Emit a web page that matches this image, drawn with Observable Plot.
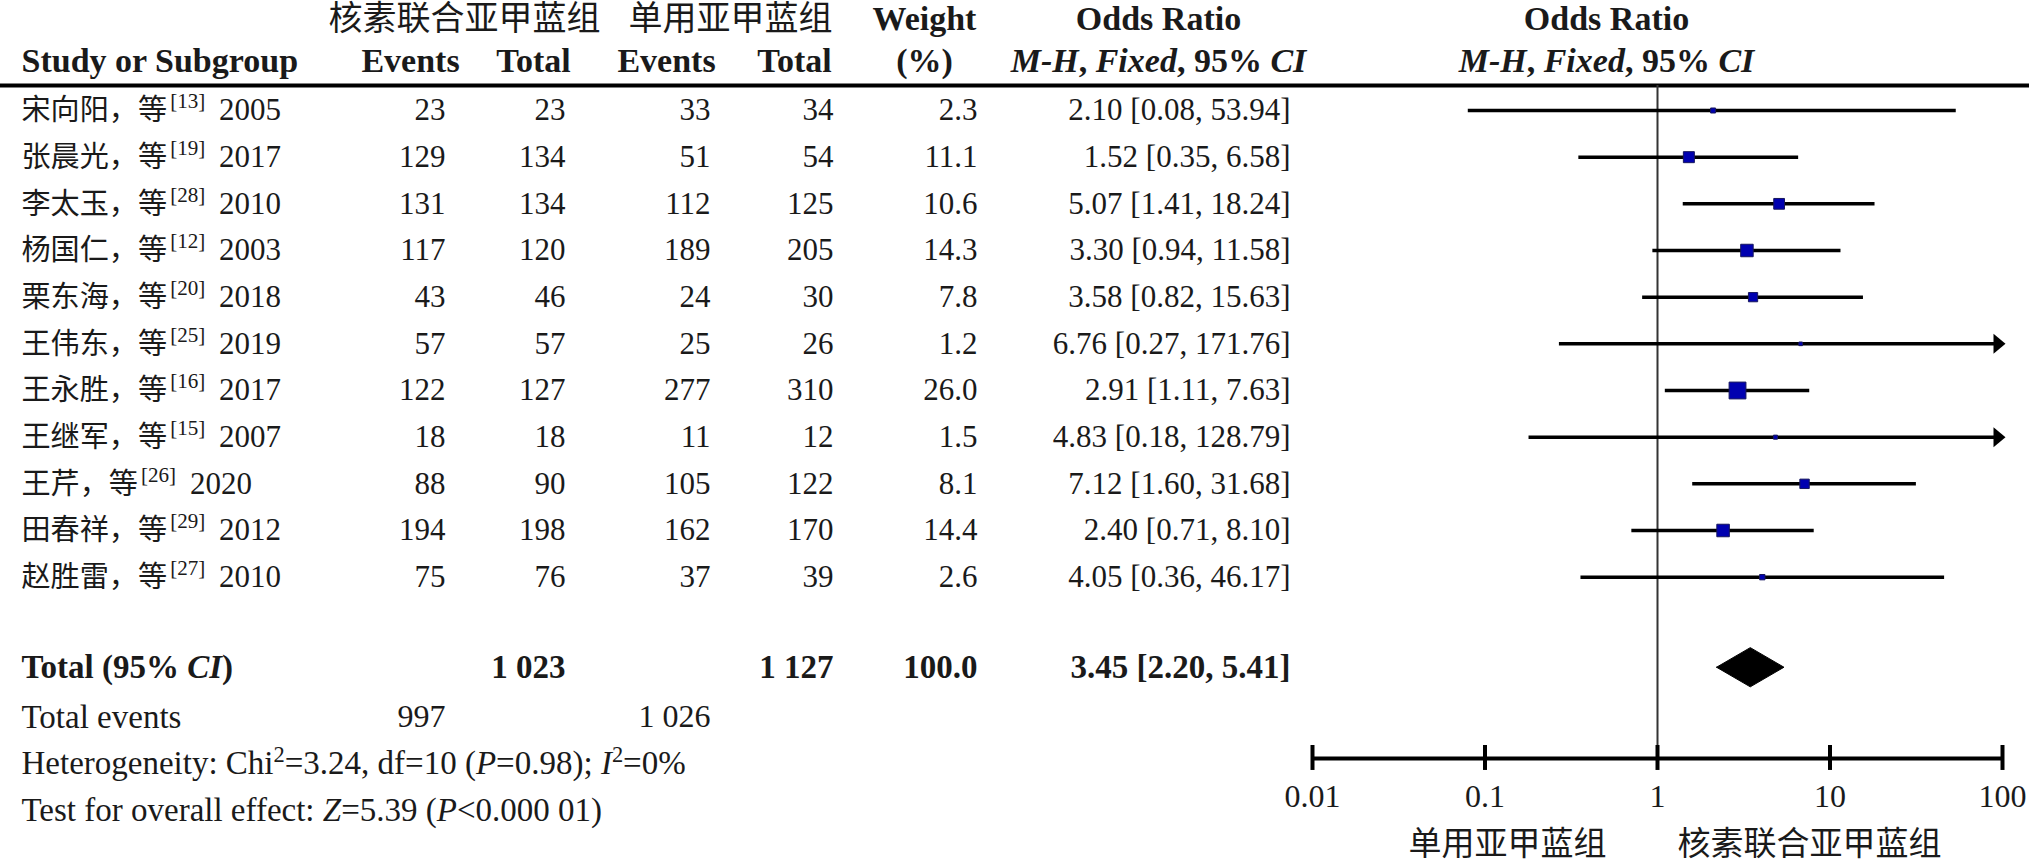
<!DOCTYPE html>
<html><head><meta charset="utf-8">
<script src="https://cdn.jsdelivr.net/npm/d3@7"></script>
<script src="https://cdn.jsdelivr.net/npm/@observablehq/plot@0.6"></script>
<style>
html,body{margin:0;padding:0;background:#fff;overflow:hidden;}
#chart svg{display:block;}
</style></head><body><div id="chart"></div>
<script>
// ---------------- data ----------------
const authors = ["宋向阳，等","张晨光，等","李太玉，等","杨国仁，等","栗东海，等","王伟东，等","王永胜，等","王继军，等","王芹，等","田春祥，等","赵胜雷，等"];
const refs = [13,19,28,12,20,25,16,15,26,29,27];
const years = [2005,2017,2010,2003,2018,2019,2017,2007,2020,2012,2010];
const eventsA = [23,129,131,117,43,57,122,18,88,194,75];
const totalA = [23,134,134,120,46,57,127,18,90,198,76];
const eventsB = [33,51,112,189,24,25,277,11,105,162,37];
const totalB = [34,54,125,205,30,26,310,12,122,170,39];
const weights = [2.3,11.1,10.6,14.3,7.8,1.2,26.0,1.5,8.1,14.4,2.6];
const oddsRatio = [2.10,1.52,5.07,3.30,3.58,6.76,2.91,4.83,7.12,2.40,4.05];
const ciLow = [0.08,0.35,1.41,0.94,0.82,0.27,1.11,0.18,1.60,0.71,0.36];
const ciHigh = [53.94,6.58,18.24,11.58,15.63,171.76,7.63,128.79,31.68,8.10,46.17];

const sumTotalA = 1023, sumTotalB = 1127, sumWeight = 100.0;
const sumEventsA = 997, sumEventsB = 1026;
const pooledOR = 3.45, pooledLow = 2.20, pooledHigh = 5.41;

const groupA = "核素联合亚甲蓝组";
const groupB = "单用亚甲蓝组";
const tickValues = [0.01, 0.1, 1, 10, 100];
const heterogeneityText = "Heterogeneity: Chi^2^=3.24, df=10 (_P_=0.98); _I_^2^=0%";
const overallText = "Test for overall effect: _Z_=5.39 (_P_<0.000 01)";

// ---------------- layout ----------------
const col = {study: 21, eA: 445, nA: 565, eB: 710, nB: 833, wt: 977, or: 1290};
const head = {groupA: 464, groupB: 730, eA: 410, nA: 533, eB: 666, nB: 794, wt: 924, or: 1158, plot: 1606, sideL: 1507, sideR: 1809};
const rowY = {head1: -1.95, head2: -1.05, rule: -0.536, total: 11.93, events: 13, het: 14, test: 15,
              axis: 13.886, tickTop: 13.607, tickBottom: 14.142, tickLabel: 14.7, side: 15.73, diamondHalf: 0.42};

const fmtN = n => String(n).replace(/\B(?=(\d{3})+(?!\d))/g, " ");
const orText = (o, l, h) => `${o.toFixed(2)} [${l.toFixed(2)}, ${h.toFixed(2)}]`;

const studies = authors.map((a, i) => ({
  label: `${a}^[${refs[i]}]^ ${years[i]}`, row: i,
  eA: eventsA[i], nA: totalA[i], eB: eventsB[i], nB: totalB[i],
  w: weights[i], or: oddsRatio[i], lo: ciLow[i], hi: ciHigh[i]
}));
const xMax = tickValues[tickValues.length - 1];
const xMin = tickValues[0];

const diamond = [
  {x: pooledLow, y: rowY.total},
  {x: pooledOR, y: rowY.total - rowY.diamondHalf},
  {x: pooledHigh, y: rowY.total},
  {x: pooledOR, y: rowY.total + rowY.diamondHalf},
  {x: pooledLow, y: rowY.total}
];

const arrowSymbol = {draw(ctx) { ctx.moveTo(3, 0); ctx.lineTo(-9, -10); ctx.lineTo(-9, 10); ctx.closePath(); }};

const font = "'Liberation Serif', 'Noto Sans CJK SC', serif";
const ink = "#1a1a1a";
const T = (data, o) => Plot.text(data, {fontFamily: font, fontSize: 31, frameAnchor: "left", fill: ink, ...o});
const one = [0];
const HB = {fontSize: 34, fontWeight: "bold", textAnchor: "middle"};

const chart = Plot.plot({
  width: 2029, height: 862,
  marginTop: 0, marginRight: 0, marginBottom: 0, marginLeft: 0,
  style: {background: "#fff", overflow: "visible"},
  x: {type: "log", domain: [xMin, xMax], range: [1312, 2002], axis: null},
  y: {domain: [0, 15], range: [110, 810], axis: null},
  r: {type: "sqrt", domain: [0, 26], range: [0, 9.5]},
  marks: [
    // header
    T(one, {text: () => groupA, y: rowY.head1, dx: head.groupA, textAnchor: "middle", fontSize: 34}),
    T(one, {text: () => groupB, y: rowY.head1, dx: head.groupB, textAnchor: "middle", fontSize: 34}),
    T(one, {text: () => "Weight", y: rowY.head1, dx: head.wt, ...HB}),
    T(one, {text: () => "Odds Ratio", y: rowY.head1, dx: head.or, ...HB}),
    T(one, {text: () => "Odds Ratio", y: rowY.head1, dx: head.plot, ...HB}),
    T(one, {text: () => "Study or Subgroup", y: rowY.head2, dx: col.study, ...HB, textAnchor: "start"}),
    T(one, {text: () => "Events", y: rowY.head2, dx: head.eA, ...HB}),
    T(one, {text: () => "Total", y: rowY.head2, dx: head.nA, ...HB}),
    T(one, {text: () => "Events", y: rowY.head2, dx: head.eB, ...HB}),
    T(one, {text: () => "Total", y: rowY.head2, dx: head.nB, ...HB}),
    T(one, {text: () => "(%)", y: rowY.head2, dx: head.wt, ...HB}),
    T(one, {text: () => "_M-H_, _Fixed_, 95% _CI_", y: rowY.head2, dx: head.or, ...HB}),
    T(one, {text: () => "_M-H_, _Fixed_, 95% _CI_", y: rowY.head2, dx: head.plot, ...HB}),
    Plot.ruleY([rowY.rule], {stroke: "#000", strokeWidth: 4}),

    // study rows
    T(studies, {text: "label", y: "row", dx: col.study, textAnchor: "start"}),
    T(studies, {text: d => fmtN(d.eA), y: "row", dx: col.eA, textAnchor: "end"}),
    T(studies, {text: d => fmtN(d.nA), y: "row", dx: col.nA, textAnchor: "end"}),
    T(studies, {text: d => fmtN(d.eB), y: "row", dx: col.eB, textAnchor: "end"}),
    T(studies, {text: d => fmtN(d.nB), y: "row", dx: col.nB, textAnchor: "end"}),
    T(studies, {text: d => d.w.toFixed(1), y: "row", dx: col.wt, textAnchor: "end"}),
    T(studies, {text: d => orText(d.or, d.lo, d.hi), y: "row", dx: col.or, textAnchor: "end"}),

    // totals
    T(one, {text: () => "Total (95% _CI_)", y: rowY.total, dx: col.study, textAnchor: "start", fontWeight: "bold", fontSize: 33}),
    T(one, {text: () => fmtN(sumTotalA), y: rowY.total, dx: col.nA, textAnchor: "end", fontWeight: "bold", fontSize: 33}),
    T(one, {text: () => fmtN(sumTotalB), y: rowY.total, dx: col.nB, textAnchor: "end", fontWeight: "bold", fontSize: 33}),
    T(one, {text: () => sumWeight.toFixed(1), y: rowY.total, dx: col.wt, textAnchor: "end", fontWeight: "bold", fontSize: 33}),
    T(one, {text: () => orText(pooledOR, pooledLow, pooledHigh), y: rowY.total, dx: col.or, textAnchor: "end", fontWeight: "bold", fontSize: 33}),
    T(one, {text: () => "Total events", y: rowY.events, dx: col.study, textAnchor: "start", fontSize: 33}),
    T(one, {text: () => fmtN(sumEventsA), y: rowY.events, dx: col.eA, textAnchor: "end", fontSize: 32}),
    T(one, {text: () => fmtN(sumEventsB), y: rowY.events, dx: col.eB, textAnchor: "end", fontSize: 32}),
    T(one, {text: () => heterogeneityText, y: rowY.het, dx: col.study, textAnchor: "start", fontSize: 33}),
    T(one, {text: () => overallText, y: rowY.test, dx: col.study, textAnchor: "start", fontSize: 33}),

    // forest
    Plot.ruleX([1], {y1: rowY.rule, y2: rowY.axis, stroke: "#333", strokeWidth: 2}),
    Plot.ruleY(studies, {y: "row", x1: "lo", x2: d => Math.min(d.hi, xMax), stroke: "#000", strokeWidth: 3.5}),
    Plot.dot(studies.filter(d => d.hi > xMax), {x: () => xMax, y: "row", r: 1, symbol: arrowSymbol, fill: "#000", stroke: "none"}),
    Plot.dot(studies, {x: "or", y: "row", r: "w", symbol: "square", fill: "#0000b0", stroke: "#16165e", strokeWidth: 1}),
    Plot.line(diamond, {x: "x", y: "y", fill: "#000", stroke: "#000", strokeWidth: 1}),

    // axis
    Plot.ruleY([rowY.axis], {x1: xMin, x2: xMax, stroke: "#000", strokeWidth: 4}),
    Plot.ruleX(tickValues, {x: d => d, y1: rowY.tickTop, y2: rowY.tickBottom, stroke: "#000", strokeWidth: 4}),
    Plot.text(tickValues, {x: d => d, y: rowY.tickLabel, text: d => String(d), fontFamily: font, fontSize: 32, fill: ink}),
    T(one, {text: () => groupB, y: rowY.side, dx: head.sideL, textAnchor: "middle", fontSize: 33}),
    T(one, {text: () => groupA, y: rowY.side, dx: head.sideR, textAnchor: "middle", fontSize: 33})
  ]
});

// rich text: ^sup^, _italic_, slightly smaller CJK glyphs in mixed Latin/CJK labels
function enrich(svg) {
  const NS = "http://www.w3.org/2000/svg";
  svg.querySelectorAll("text").forEach(t => {
    const s = t.textContent;
    const hasCJK = /[\u3400-\u9fff]/.test(s);
    const mixed = hasCJK && /[A-Za-z0-9]/.test(s);
    if (!/[\^_]/.test(s) && !mixed) return;
    while (t.firstChild) t.removeChild(t.firstChild);
    const parts = s.split(/(\^[^^]*\^|_[^_]*_)/).filter(p => p.length);
    let afterRef = false;
    for (const p of parts) {
      let txt = p, sup = false, ital = false;
      if (p.startsWith("^") && p.endsWith("^")) { txt = p.slice(1, -1); sup = true; }
      else if (p.startsWith("_") && p.endsWith("_")) { txt = p.slice(1, -1); ital = true; }
      const runs = mixed ? txt.split(/([\u3400-\u9fff\uff0c]+)/).filter(r => r.length) : [txt];
      for (const r of runs) {
        const ts = document.createElementNS(NS, "tspan");
        ts.textContent = r;
        if (sup) {
          ts.setAttribute("baseline-shift", "super");
          ts.setAttribute("font-size", "0.68em");
          if (r.startsWith("[")) ts.setAttribute("dx", "3");
        }
        if (ital) ts.setAttribute("font-style", "italic");
        if (mixed && /[\u3400-\u9fff\uff0c]/.test(r)) ts.setAttribute("font-size", "0.94em");
        if (afterRef) { ts.setAttribute("dx", "6"); afterRef = false; }
        t.appendChild(ts);
      }
      if (sup && txt.startsWith("[")) afterRef = true;
    }
  });
}
enrich(chart);
document.getElementById("chart").appendChild(chart);
</script>
</body></html>
